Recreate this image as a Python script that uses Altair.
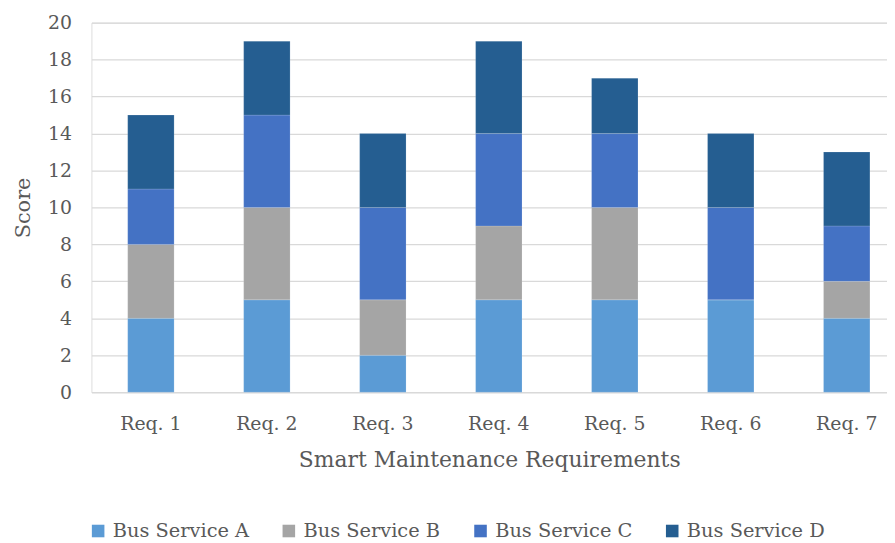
import altair as alt
import pandas as pd

categories = ["Req. 1", "Req. 2", "Req. 3", "Req. 4", "Req. 5", "Req. 6", "Req. 7"]
series = ["Bus Service A", "Bus Service B", "Bus Service C", "Bus Service D"]
service_a = [4, 5, 2, 5, 5, 5, 4]
service_b = [4, 5, 3, 4, 5, 0, 2]
service_c = [3, 5, 5, 5, 4, 5, 3]
service_d = [4, 4, 4, 5, 3, 4, 4]
colors = ["#5B9BD5", "#A5A5A5", "#4472C4", "#255E91"]

rows = []
for name, vals in zip(series, [service_a, service_b, service_c, service_d]):
    for i, (c, v) in enumerate(zip(categories, vals)):
        rows.append({"Requirement": c, "Service": name, "Score": v, "order": series.index(name)})
df = pd.DataFrame(rows)

FONT = "DejaVu Serif"
TXT = "#595959"

chart = alt.Chart(df).mark_bar(stroke="#ffffff", strokeWidth=0.3, strokeOpacity=0.5).encode(
    x=alt.X("Requirement:N", sort=categories,
            scale=alt.Scale(paddingInner=0.6, paddingOuter=0.23, align=0.68),
            axis=alt.Axis(title="Smart Maintenance Requirements", labelAngle=0, ticks=False,
                          domainColor="#D9D9D9", domainWidth=1.3, grid=False,
                          labelPadding=23, titlePadding=16,
                          labelFont=FONT, labelFontSize=19, labelColor=TXT,
                          titleFont=FONT, titleFontSize=22, titleColor=TXT, titleFontWeight="normal")),
    y=alt.Y("Score:Q", stack="zero", scale=alt.Scale(domain=[0, 20], nice=False),
            axis=alt.Axis(title="Score", values=list(range(0, 21, 2)), ticks=False, domain=False,
                          gridColor="#D9D9D9", gridWidth=1.3, labelPadding=20, titlePadding=14,
                          labelFont=FONT, labelFontSize=19, labelColor=TXT,
                          titleFont=FONT, titleFontSize=21, titleColor=TXT, titleFontWeight="normal")),
    color=alt.Color("Service:N", sort=series,
                    scale=alt.Scale(domain=series, range=colors),
                    legend=alt.Legend(title=None, orient="none", direction="horizontal",
                                      legendX=-3, legendY=502, symbolType="square", symbolSize=160,
                                      symbolStrokeWidth=0, labelFont=FONT, labelFontSize=19.5,
                                      labelColor=TXT, columnPadding=30, labelOffset=5,
                                      gridAlign="none")),
    order=alt.Order("order:Q", sort="ascending"),
).properties(
    width=801, height=372,
    autosize=alt.AutoSizeParams(type="none"),
    padding={"left": 84, "top": 13, "right": 0, "bottom": 150},
).configure_view(stroke=None).configure(background="#ffffff")

chart.save("out.html", embed_options={"renderer": "svg", "actions": False})
